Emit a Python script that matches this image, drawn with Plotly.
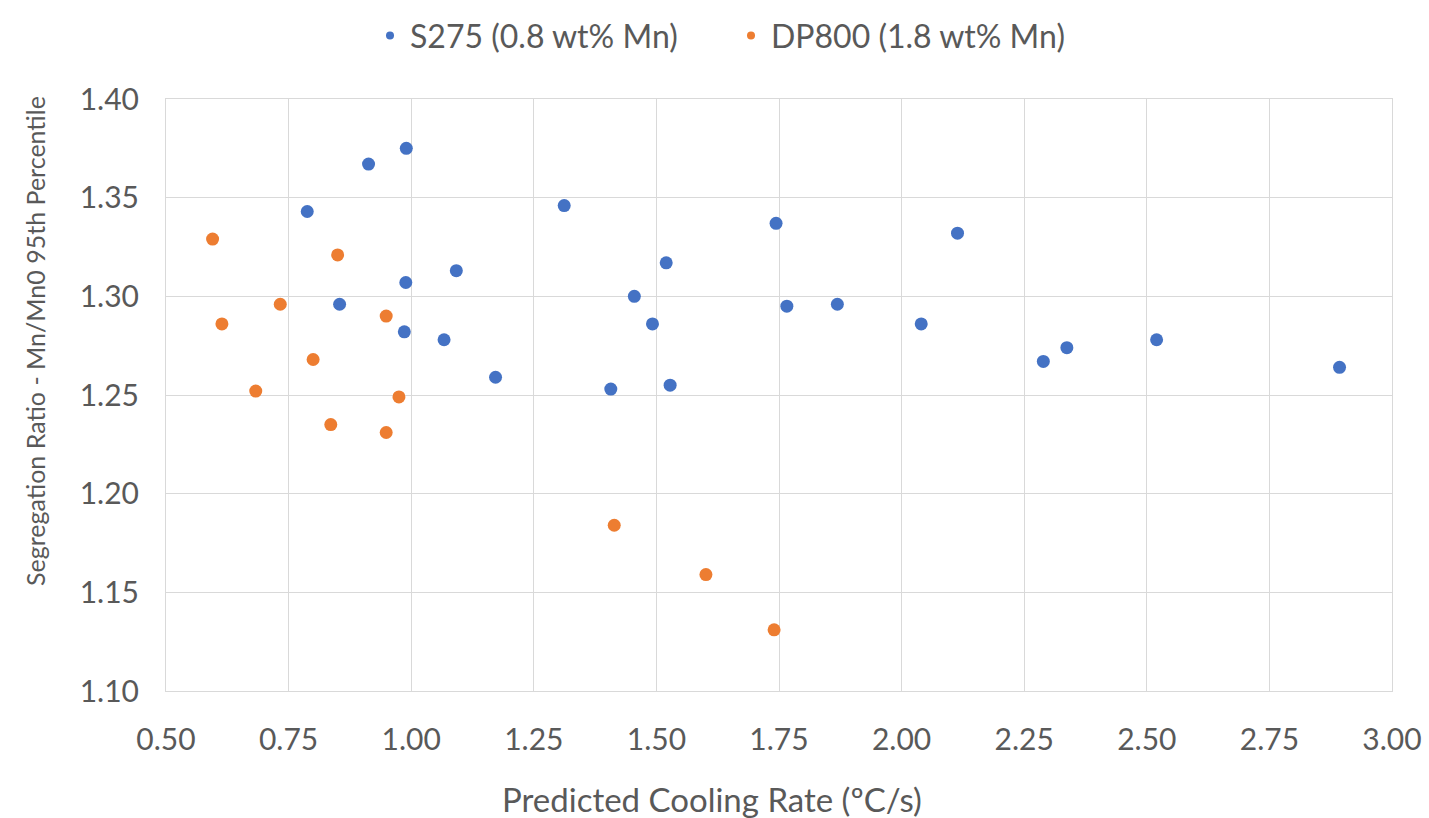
import plotly.graph_objects as go

# S275 (0.8 wt% Mn): predicted cooling rate (ºC/s) vs segregation ratio
s275_rate = [0.990, 0.913, 0.788, 1.312, 1.092, 0.989, 0.854, 0.986, 1.067, 1.172,
             1.744, 1.520, 1.455, 1.492, 1.407, 1.528, 1.766, 1.869, 2.114, 2.040,
             2.289, 2.337, 2.520, 2.893]
s275_ratio = [1.375, 1.367, 1.343, 1.346, 1.313, 1.307, 1.296, 1.282, 1.278, 1.259,
              1.337, 1.317, 1.300, 1.286, 1.253, 1.255, 1.295, 1.296, 1.332, 1.286,
              1.267, 1.274, 1.278, 1.264]

# DP800 (1.8 wt% Mn)
dp800_rate = [0.595, 0.850, 0.733, 0.614, 0.949, 0.800, 0.683, 0.975, 0.836, 0.949,
              1.414, 1.601, 1.740]
dp800_ratio = [1.329, 1.321, 1.296, 1.286, 1.290, 1.268, 1.252, 1.249, 1.235, 1.231,
               1.184, 1.159, 1.131]

x_ticks = [0.50, 0.75, 1.00, 1.25, 1.50, 1.75, 2.00, 2.25, 2.50, 2.75, 3.00]
y_ticks = [1.10, 1.15, 1.20, 1.25, 1.30, 1.35, 1.40]

x_title = "Predicted Cooling Rate (ºC/s)"
y_title = "Segregation Ratio - Mn/Mn0 95th Percentile"

BLUE = "#4472C4"
ORANGE = "#ED7D31"
FONT = "Lato, 'Open Sans', sans-serif"
TEXT = "#595959"
GRID = "#D9D9D9"

W, H = 1429, 818
ML, MR, MT, MB = 166, 37, 99, 127
PW, PH = W - ML - MR, H - MT - MB

fig = go.Figure()
series = [
    ("S275 (0.8 wt% Mn)", s275_rate, s275_ratio, BLUE),
    ("DP800 (1.8 wt% Mn)", dp800_rate, dp800_ratio, ORANGE),
]
for name, xs, ys, col in series:
    fig.add_trace(go.Scatter(x=xs, y=ys, mode="markers", name=name, showlegend=False,
                             marker=dict(color=col, size=13, line=dict(width=0))))
# smaller legend symbols
for name, xs, ys, col in series:
    fig.add_trace(go.Scatter(x=[None], y=[None], mode="markers", name=name,
                             marker=dict(color=col, size=8)))

axis_common = dict(
    showgrid=True, gridcolor=GRID, gridwidth=1,
    showline=True, linecolor=GRID, linewidth=1, mirror=True,
    zeroline=False, ticks="", tickfont=dict(family=FONT, size=30, color=TEXT),
    automargin=False,
)
fig.update_xaxes(range=[0.5, 3.0], tickvals=x_ticks,
                 ticktext=[f"{v:.2f}" for v in x_ticks],
                 ticklabelstandoff=22, **axis_common)
fig.update_yaxes(range=[1.10, 1.40], tickvals=y_ticks,
                 ticktext=[f"{v:.2f}" for v in y_ticks],
                 ticklabelstandoff=20, **axis_common)

# axis titles placed relative to the whole chart area
fig.add_annotation(text=x_title, xref="paper", yref="paper",
                   x=(712 - ML) / PW, y=(H - MB - 799) / PH,
                   xanchor="center", yanchor="middle", showarrow=False,
                   font=dict(family=FONT, size=33, color=TEXT))
fig.add_annotation(text=y_title, xref="paper", yref="paper", textangle=-90,
                   x=(35 - ML) / PW, y=(H - MB - 341) / PH,
                   xanchor="center", yanchor="middle", showarrow=False,
                   font=dict(family=FONT, size=25, color=TEXT))

fig.update_layout(
    width=W, height=H,
    margin=dict(l=ML, r=MR, t=MT, b=MB, autoexpand=False),
    paper_bgcolor="white", plot_bgcolor="white",
    font=dict(family=FONT, color=TEXT),
    legend=dict(orientation="h", xref="container", x=370 / W, xanchor="left",
                yref="container", y=0.99, yanchor="top",
                entrywidth=316, entrywidthmode="pixels", itemwidth=30,
                font=dict(family=FONT, size=32, color=TEXT)),
)

fig.write_html("out.html")
